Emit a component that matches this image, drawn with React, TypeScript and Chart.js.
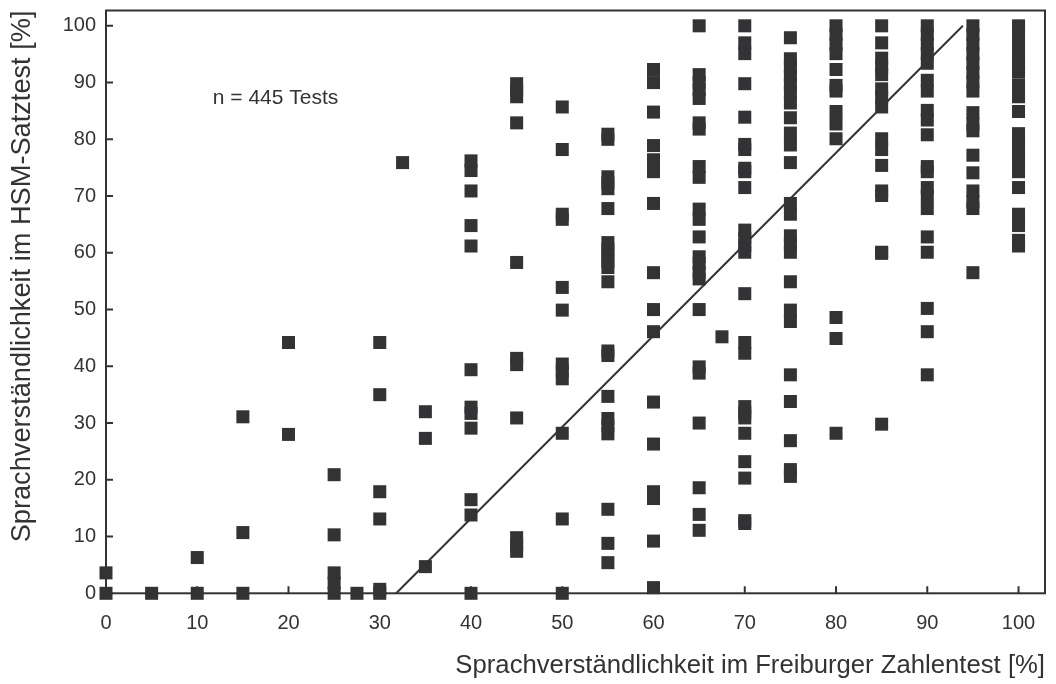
import React, { useEffect, useRef } from "react";
import { Chart, registerables } from "chart.js";

Chart.register(...registerables);

// Freiburger Zahlentest scores (x) and the HSM sentence test results measured at each of them (y)
const hsmAt0 = [0, 3.6];
const hsmAt5 = [0];
const hsmAt10 = [0, 6.3];
const hsmAt15 = [0, 10.7, 31.1];
const hsmAt20 = [28.0, 44.2];
const hsmAt25 = [0, 1.8, 3.6, 10.3, 20.9];
const hsmAt27_5 = [0];
const hsmAt30 = [0, 0.7, 13.1, 17.9, 35.0, 44.2];
const hsmAt32_5 = [75.9];
const hsmAt35 = [4.7, 27.3, 32.0];
const hsmAt40 = [0, 13.8, 16.5, 29.1, 31.7, 32.8, 39.4, 61.2, 64.8, 70.9, 74.5, 76.2];
const hsmAt45 = [7.4, 8.5, 9.8, 30.9, 40.3, 41.4, 58.3, 82.9, 87.5, 88.7, 89.8];
const hsmAt50 = [0, 13.1, 28.2, 37.8, 39.2, 40.4, 49.9, 53.9, 65.9, 66.8, 78.2, 85.7];
const hsmAt55 = [5.4, 8.8, 14.8, 28.1, 29.5, 30.8, 34.7, 41.9, 42.7, 54.9, 57.4, 58.5, 59.6, 60.7, 61.8, 67.8, 71.3, 72.3, 73.4, 80.0, 80.9];
const hsmAt60 = [1.0, 9.2, 16.7, 17.9, 26.3, 33.7, 46.1, 50.0, 56.5, 68.7, 74.3, 76.4, 78.9, 84.8, 90.0, 92.3];
const hsmAt65 = [11.1, 13.9, 18.6, 30.0, 38.8, 39.9, 50.0, 55.4, 56.6, 58.1, 59.3, 62.8, 65.9, 67.7, 73.3, 75.2, 81.8, 82.9, 87.2, 88.7, 90.0, 91.4, 100];
const hsmAt67_5 = [45.2];
const hsmAt70 = [12.3, 12.8, 20.3, 23.2, 28.2, 30.9, 31.8, 32.9, 42.3, 44.2, 52.8, 60.1, 61.3, 62.6, 64.0, 71.5, 74.3, 74.9, 78.2, 79.1, 83.9, 89.8, 95.1, 97.0, 100];
const hsmAt75 = [20.6, 21.8, 26.9, 33.8, 38.5, 47.9, 49.9, 54.9, 60.1, 61.6, 63.0, 66.8, 68.7, 75.9, 79.0, 81.1, 83.8, 86.4, 88.2, 89.8, 91.3, 92.8, 94.2, 97.9];
const hsmAt80 = [28.2, 44.9, 48.6, 80.1, 82.7, 84.9, 88.5, 89.5, 92.3, 95.1, 96.8, 98.5, 100];
const hsmAt85 = [29.8, 59.9, 60.1, 70.1, 70.9, 75.4, 78.2, 80.1, 85.7, 87.4, 88.9, 91.4, 92.8, 94.3, 97.0, 100];
const hsmAt90 = [38.5, 46.1, 50.2, 60.1, 62.8, 67.8, 70.0, 71.5, 74.3, 75.2, 80.8, 83.4, 85.1, 88.5, 90.4, 93.4, 95.1, 96.8, 98.5, 100];
const hsmAt95 = [56.5, 67.8, 69.0, 70.9, 74.1, 77.2, 81.5, 82.7, 84.7, 88.5, 90.1, 91.8, 93.4, 95.1, 96.8, 98.5, 100];
const hsmAt100 = [61.2, 62.2, 64.8, 66.8, 71.5, 74.3, 76.0, 77.7, 79.4, 81.0, 84.9, 87.5, 89.6, 91.9, 93.4, 95.1, 96.8, 98.5, 100];

const freiburgerScores = [0, 5, 10, 15, 20, 25, 27.5, 30, 32.5, 35, 40, 45, 50, 55, 60, 65, 67.5, 70, 75, 80, 85, 90, 95, 100];
const hsmColumns = [
  hsmAt0, hsmAt5, hsmAt10, hsmAt15, hsmAt20, hsmAt25, hsmAt27_5, hsmAt30, hsmAt32_5, hsmAt35,
  hsmAt40, hsmAt45, hsmAt50, hsmAt55, hsmAt60, hsmAt65, hsmAt67_5, hsmAt70, hsmAt75, hsmAt80,
  hsmAt85, hsmAt90, hsmAt95, hsmAt100,
];

// Straight reference line
const fitLineX = [31.8, 93.9];
const fitLineY = [0, 100];

const tickValues = [0, 10, 20, 30, 40, 50, 60, 70, 80, 90, 100];

const xTitle = "Sprachverständlichkeit im Freiburger Zahlentest [%]";
const yTitle = "Sprachverständlichkeit im HSM-Satztest [%]";
const noteText = "n = 445 Tests";
const noteAt = [11.7, 87.3];

const FONT = "'Liberation Sans', Arial, sans-serif";
const INK = "#333336";
const TEXT = "#333333";

const framePlugin = {
  id: "frameAndTicks",
  beforeDatasetsDraw(chart: any) {
    const { ctx, chartArea: a, scales } = chart;
    ctx.save();
    ctx.strokeStyle = INK;
    ctx.lineWidth = 2;
    ctx.strokeRect(a.left, a.top, a.right - a.left, a.bottom - a.top);
    ctx.beginPath();
    for (const v of tickValues) {
      const px = scales.x.getPixelForValue(v);
      ctx.moveTo(px, a.bottom);
      ctx.lineTo(px, a.bottom - 7);
      const py = scales.y.getPixelForValue(v);
      ctx.moveTo(a.left, py);
      ctx.lineTo(a.left + 7, py);
    }
    ctx.stroke();
    ctx.fillStyle = TEXT;
    ctx.font = `21px ${FONT}`;
    ctx.textAlign = "left";
    ctx.textBaseline = "middle";
    ctx.fillText(noteText, scales.x.getPixelForValue(noteAt[0]), scales.y.getPixelForValue(noteAt[1]));
    ctx.restore();
  },
};

export default function App() {
  const canvasRef = useRef<HTMLCanvasElement | null>(null);

  useEffect(() => {
    if (!canvasRef.current) return;
    const points = freiburgerScores.flatMap((x, i) => hsmColumns[i].map((y) => ({ x, y })));
    const linePoints = fitLineX.map((x, i) => ({ x, y: fitLineY[i] }));

    const chart = new Chart(canvasRef.current, {
      type: "scatter",
      data: {
        datasets: [
          {
            data: points,
            pointStyle: "rect",
            pointRadius: 9.2,
            pointBorderWidth: 0,
            pointBackgroundColor: INK,
            backgroundColor: INK,
            borderColor: INK,
            clip: false,
          } as any,
          {
            type: "line",
            data: linePoints,
            borderColor: INK,
            borderWidth: 2,
            pointRadius: 0,
            showLine: true,
            fill: false,
            clip: false,
          } as any,
        ],
      },
      options: {
        animation: false,
        responsive: false,
        maintainAspectRatio: false,
        layout: { padding: { top: 10.5, right: 11, left: 0, bottom: 0 } },
        plugins: {
          legend: { display: false },
          tooltip: { enabled: false },
        },
        scales: {
          x: {
            type: "linear",
            min: 0,
            max: 102.9,
            grid: { display: false, drawTicks: false },
            border: { display: false },
            ticks: {
              stepSize: 10,
              includeBounds: false,
              autoSkip: false,
              maxRotation: 0,
              padding: 18,
              color: TEXT,
              font: { family: FONT, size: 20 },
              callback: (v: any) => (tickValues.includes(v) ? String(v) : ""),
            },
            title: {
              display: true,
              text: xTitle,
              align: "end",
              color: TEXT,
              font: { family: FONT, size: 25.7 },
              padding: { top: 0, bottom: 3 },
            },
            afterFit: (s: any) => {
              s.height = 90.7;
              s.paddingLeft = 0;
              s.paddingRight = 0;
            },
          },
          y: {
            type: "linear",
            min: 0,
            max: 102.7,
            grid: { display: false, drawTicks: false },
            border: { display: false },
            ticks: {
              stepSize: 10,
              includeBounds: false,
              autoSkip: false,
              padding: 10,
              color: TEXT,
              font: { family: FONT, size: 20 },
              callback: (v: any) => (tickValues.includes(v) ? String(v) : ""),
            },
            title: {
              display: true,
              text: yTitle,
              align: "end",
              color: TEXT,
              font: { family: FONT, size: 27.2 },
              padding: { top: 6, bottom: 0 },
            },
            afterFit: (s: any) => {
              s.width = 106;
              s.paddingTop = 0;
              s.paddingBottom = 0;
            },
          },
        },
      },
      plugins: [framePlugin],
    });
    return () => chart.destroy();
  }, []);

  return (
    <div style={{ position: "fixed", left: 0, top: 0, width: 1056, height: 684, background: "#fff" }}>
      <canvas ref={canvasRef} width={1056} height={684} style={{ display: "block" }} />
    </div>
  );
}
